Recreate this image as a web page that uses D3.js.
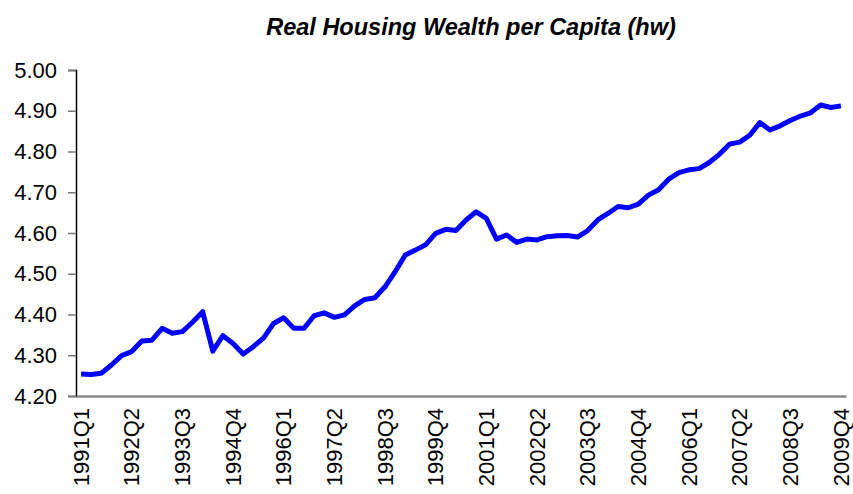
<!DOCTYPE html>
<html>
<head>
<meta charset="utf-8">
<script src="https://cdn.jsdelivr.net/npm/d3@7"></script>
<style>
  body { margin: 0; background: #fff; }
  svg { display: block; font-family: Arial, "Liberation Sans", sans-serif; }
</style>
</head>
<body>
<svg id="chart" width="853" height="494"></svg>
<script>
// quarterly housing wealth, 1991Q1 .. 2009Q4
const years = d3.range(1991, 2010)
const quarters = years.flatMap(y => [1, 2, 3, 4].map(q => y + 'Q' + q))
const hw = [
  4.254, 4.253, 4.256, 4.276, 4.299, 4.309, 4.335, 4.337, 4.366, 4.354,
  4.358, 4.381, 4.407, 4.310, 4.348, 4.329, 4.303, 4.321, 4.342, 4.378,
  4.392, 4.366, 4.366, 4.397, 4.404, 4.393, 4.399, 4.421, 4.437, 4.441,
  4.468, 4.505, 4.546, 4.558, 4.571, 4.599, 4.609, 4.606, 4.632, 4.652,
  4.636, 4.585, 4.595, 4.577, 4.585, 4.583, 4.591, 4.593, 4.594, 4.590,
  4.606, 4.632, 4.648, 4.665, 4.662, 4.671, 4.693, 4.706, 4.732, 4.748,
  4.755, 4.758, 4.773, 4.793, 4.818, 4.823, 4.840, 4.871, 4.853, 4.863,
  4.876, 4.887, 4.895, 4.914, 4.908, 4.912
]
const yTicks = [4.2, 4.3, 4.4, 4.5, 4.6, 4.7, 4.8, 4.9, 5.0]
const title = 'Real Housing Wealth per Capita (hw)'

const svg = d3.select('#chart')
const mLeft = 76, mRight = 846, mTop = 70, mBottom = 396

const x = d3.scaleBand().domain(quarters).range([mLeft, mRight])
const y = d3.scaleLinear().domain([4.2, 5.0]).range([mBottom, mTop])

svg.append('text')
    .attr('x', 471).attr('y', 35)
    .attr('text-anchor', 'middle')
    .attr('font-size', 23.5).attr('font-weight', 'bold').attr('font-style', 'italic')
    .text(title)

// y axis
const yAxis = svg.append('g')
    .attr('transform', `translate(${mLeft},0)`)
    .call(d3.axisLeft(y).tickValues(yTicks).tickFormat(d3.format('.2f')).tickSize(8).tickPadding(11))
yAxis.select('.domain').attr('stroke', '#000').attr('stroke-width', 1.5)
yAxis.selectAll('.tick line').attr('stroke', '#777').attr('stroke-width', 1.5)
yAxis.selectAll('.tick text').attr('font-size', 22).attr('fill', '#000')
    .attr('font-family', 'Arial, "Liberation Sans", sans-serif')

// x axis, labels every 5th quarter
const xAxis = svg.append('g')
    .attr('transform', `translate(0,${mBottom})`)
    .call(d3.axisBottom(x).tickValues(quarters.filter((d, i) => i % 5 === 0)).tickSize(0).tickPadding(0))
xAxis.select('.domain').attr('stroke', '#888').attr('stroke-width', 2.5)
xAxis.selectAll('.tick text')
    .attr('font-size', 22).attr('fill', '#000')
    .attr('font-family', 'Arial, "Liberation Sans", sans-serif')
    .attr('text-anchor', 'end')
    .attr('transform', 'rotate(-90)')
    .attr('x', -12).attr('y', 0).attr('dy', '0.35em')

const line = d3.line()
    .x((d, i) => x(quarters[i]) + x.bandwidth() / 2)
    .y(d => y(d))

svg.append('path')
    .datum(hw)
    .attr('fill', 'none')
    .attr('stroke', '#0000ff')
    .attr('stroke-width', 5)
    .attr('stroke-linejoin', 'round')
    .attr('d', line)
</script>
</body>
</html>
